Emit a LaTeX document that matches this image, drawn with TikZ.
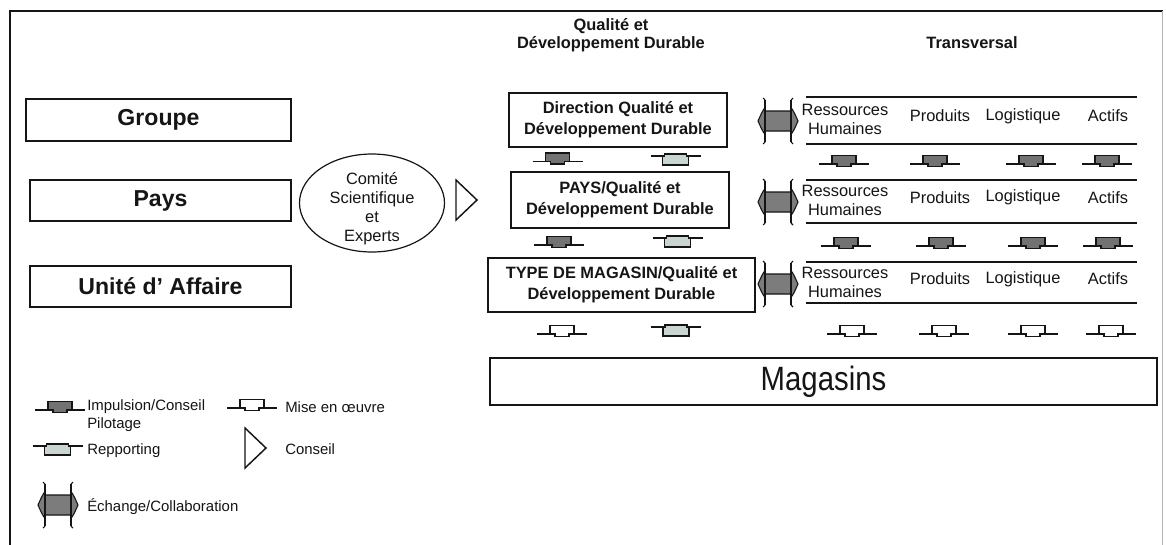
\documentclass[tikz,border=0pt]{standalone}
\usepackage{graphicx}
\usepackage{fontspec}
\setmainfont{Liberation Sans}
\usetikzlibrary{shapes.geometric}

\definecolor{ink}{HTML}{151515}
\definecolor{pilot}{HTML}{727272}
\definecolor{report}{HTML}{C9D5D1}
\definecolor{exch}{HTML}{7C7C7C}

\tikzset{
  frame/.style={draw=ink, line width=1.3pt},
  box/.style={draw=ink, line width=1.2pt, inner sep=0pt, align=center, text=ink},
  bw/.style={minimum width=0.75pt*#1},
  bh/.style={minimum height=0.75pt*#1},
  big/.style={font=\fontsize{17.3}{20}\selectfont\bfseries},
  mid/.style={font=\fontsize{12.3}{15.5}\selectfont\bfseries},
  txt/.style={font=\fontsize{12.3}{14.3}\selectfont, text=ink, inner sep=0pt, align=center},
  leg/.style={font=\fontsize{11.2}{13.5}\selectfont, text=ink, inner sep=0pt, align=left, anchor=west},
  rowline/.style={draw=ink, line width=1pt},
  symline/.style={draw=ink, line width=1pt},
  % flow symbol: box resting on the line (impulsion / mise en oeuvre)
  pics/down/.style={code={
    \draw[symline] (-25,0) -- (25,0);
    \filldraw[symline, fill=#1] (-12,0) -- (-12,-8.5) -- (12,-8.5) -- (12,0)
      -- (7,0) -- (7,2.5) -- (-7,2.5) -- (-7,0) -- cycle;
  }},
  % flow symbol: box hanging under the line (reporting)
  pics/up/.style={code={
    \draw[symline] (-25,0) -- (25,0);
    \filldraw[symline, fill=#1] (-13,0) -- (-13,9) -- (13,9) -- (13,0)
      -- (11,0) -- (11,-2) -- (-11,-2) -- (-11,0) -- cycle;
  }},
  % double block arrow with end bars (exchange / collaboration)
  pics/exchange/.style={code={
    \filldraw[draw=ink, line width=0.8pt, fill=exch]
      (-13,-10) -- (13,-10) -- (13,-13.5)
      .. controls (16,-9) .. (20,0)
      .. controls (16,9) .. (13,13.5)
      -- (13,10) -- (-13,10) -- (-13,13.5)
      .. controls (-16,9) .. (-20,0)
      .. controls (-16,-9) .. (-13,-13.5) -- cycle;
    \draw[ink, line width=1.6pt] (-13,-21) -- (-13,21) (13,-21) -- (13,21);
    \draw[ink, line width=0.8pt] (-13,-21) -- (-15,-23) (13,-21) -- (15,-23)
      (-13,21) -- (-15,23) (13,21) -- (15,23);
  }},
  % open triangle (conseil)
  pics/advice/.style={code={
    \draw[ink, line width=1.1pt, line join=miter] (0,-20) -- (21,0) -- (0,20) -- cycle;
  }},
}

\begin{document}
\begin{tikzpicture}[x=0.75pt, y=-0.75pt]
\useasboundingbox (0,0) rectangle (1166,544);
\fill[white] (0,0) rectangle (1166,544);

% outer frame
\draw[frame] (10,560) -- (10,11) -- (1163,11);
\draw[gray!60, line width=0.6pt] (1162,11) -- (1162,560);

% organisation levels
\node[box, big, bw=265, bh=42] (groupe) at (158.5,120) {Groupe};
\node[box, big, bw=261, bh=41] (pays) at (160.5,200.5) {Pays};
\node[box, big, bw=261, bh=41] (unite) at (160.5,286.5) {Unité d' Affaire};

% scientific committee
\node[draw=ink, line width=0.9pt, ellipse, minimum width=0.75pt*145, minimum height=0.75pt*98, inner sep=0pt] (comite) at (372,203) {};
\node[txt, font=\fontsize{12.3}{14.25}\selectfont] (comitetxt) at (372,209) {Comité\\Scientifique\\et\\Experts};
\pic (conseil) at (456,200) {advice};

% column headers
\node[txt, mid, font=\fontsize{12.3}{13.5}\selectfont\bfseries] (hqdd) at (611,35) {Qualité et\\Développement Durable};
\node[txt, mid] (htrans) at (972,43) {Transversal};

% quality & sustainable development chain
\node[box, mid, bw=218, bh=54] (dqdd) at (618,120) {Direction Qualité et\\Développement Durable};
\node[box, mid, bw=218, bh=56] (pqdd) at (620,200) {PAYS/Qualité et\\Développement Durable};
\node[box, mid, bw=267, bh=54] (tqdd) at (621.5,285) {TYPE DE MAGASIN/Qualité et\\Développement Durable};
\node[box, bw=667, bh=47, font=\fontsize{22}{26}\selectfont] (magasins) at (823.5,381.5) {\scalebox{1}[1.15]{Magasins}};

\pic (s1a) at (557.5,161.5) {down=pilot};
\pic (s1b) at (675.5,156) {up=report};
\pic (s2a) at (559,245) {down=pilot};
\pic (s2b) at (677.5,238) {up=report};
\pic (s3a) at (562,334) {down=white};
\pic (s3b) at (676,327) {up=report};

% exchange arrows
\pic (x1) at (778,121) {exchange};
\pic (x2) at (778,202) {exchange};
\pic (x3) at (778,284) {exchange};

% transversal rows
\foreach \t/\b in {97/144, 180/223, 262/303} {
  \draw[rowline] (806,\t) -- (1137,\t);
  \draw[rowline] (806,\b) -- (1137,\b);
}
\foreach \r/\c in {1/119, 2/200.5, 3/282} {
  \node[txt] (rh\r) at (845,\c) {Ressources\\Humaines};
  \node[txt] (pr\r) at (940,\c-3) {Produits};
  \node[txt] (lo\r) at (1023,\c-3) {Logistique};
  \node[txt] (ac\r) at (1108,\c-3) {Actifs};
}
\pic (t1a) at (844,164) {down=pilot};
\pic (t1b) at (935,164) {down=pilot};
\pic (t1c) at (1031,164) {down=pilot};
\pic (t1d) at (1107,164) {down=pilot};
\pic (t2a) at (846,246) {down=pilot};
\pic (t2b) at (941,246) {down=pilot};
\pic (t2c) at (1033,246) {down=pilot};
\pic (t2d) at (1108,246) {down=pilot};
\pic (t3a) at (852,334) {down=white};
\pic (t3b) at (944,334) {down=white};
\pic (t3c) at (1033,334) {down=white};
\pic (t3d) at (1111,334) {down=white};

% legend
\pic (l1) at (60,410) {down=pilot};
\node[leg] (limp) at (87,416) {Impulsion/Conseil\\Pilotage};
\pic (l2) at (57.5,446) {up=report};
\node[leg] (lrep) at (87,451) {Repporting};
\pic (l3) at (58,505) {exchange};
\node[leg] (lexc) at (87,507) {Échange/Collaboration};
\pic (l4) at (252,408) {down=white};
\node[leg] (lmis) at (285,407) {Mise en œuvre};
\pic (l5) at (245,448) {advice};
\node[leg] (lcon) at (285,449) {Conseil};
\end{tikzpicture}
\end{document}
